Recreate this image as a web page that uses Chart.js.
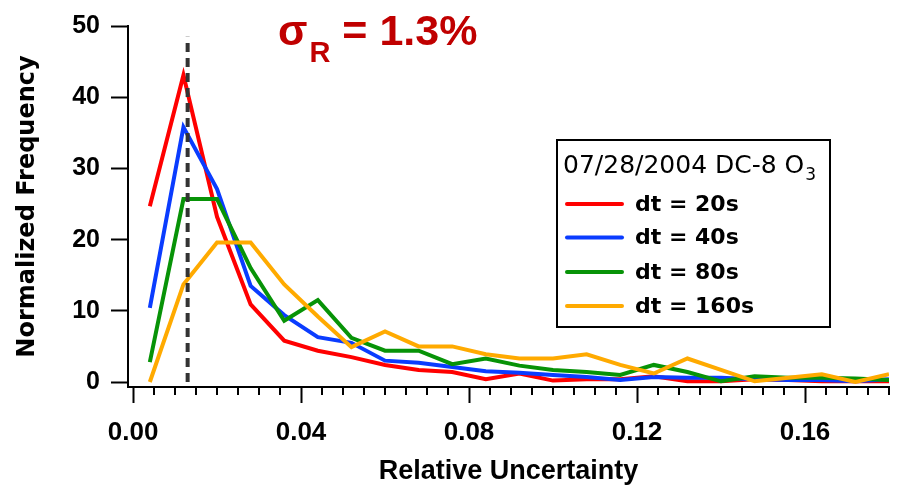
<!DOCTYPE html>
<html>
<head>
<meta charset="utf-8">
<script src="https://cdn.jsdelivr.net/npm/chart.js@4.4.1/dist/chart.umd.min.js"></script>
<style>
  html, body { margin: 0; padding: 0; background: #fff; }
</style>
</head>
<body>
<canvas id="chart" width="899" height="485"></canvas>
<script>
// histogram bin centres (relative uncertainty)
const binCenters = [0.004, 0.012, 0.020, 0.028, 0.036, 0.044, 0.052, 0.060, 0.068, 0.076, 0.084, 0.092,
                    0.100, 0.108, 0.116, 0.124, 0.132, 0.140, 0.148, 0.156, 0.164, 0.172, 0.180];

// normalized frequency for each averaging interval
const dt20  = [24.7, 43.1, 23.2, 10.9, 5.8, 4.4, 3.5, 2.4, 1.7, 1.4, 0.4, 1.2, 0.2, 0.4, 0.4, 0.8, 0.1, 0.1, 0.4, 0.3, 0.1, 0.1, 0.1];
const dt40  = [10.4, 35.8, 27.1, 13.5, 9.4, 6.3, 5.5, 3.0, 2.7, 2.1, 1.5, 1.3, 1.0, 0.7, 0.3, 0.7, 0.6, 0.6, 0.4, 0.3, 0.3, 0.1, 0.4];
const dt80  = [2.8, 25.7, 25.7, 16.0, 8.6, 11.5, 6.2, 4.4, 4.4, 2.5, 3.3, 2.3, 1.7, 1.4, 1.0, 2.4, 1.4, 0.1, 0.8, 0.6, 0.6, 0.5, 0.3];
const dt160 = [0.0, 13.7, 19.6, 19.6, 13.7, 9.2, 4.9, 7.1, 5.0, 5.0, 3.9, 3.3, 3.3, 3.9, 2.4, 1.2, 3.3, 1.7, 0.1, 0.6, 1.1, 0.0, 1.1];

const seriesLabels = ['dt = 20s', 'dt = 40s', 'dt = 80s', 'dt = 160s'];
const seriesColors = ['#ff0000', '#0a3cff', '#079307', '#ffaa00'];

// sigma_R marker
const sigmaR = 0.013;
const sigmaLineY = [0, 48.5];

const xMajorTicks = [0, 0.04, 0.08, 0.12, 0.16];
const xTickLabels = ['0.00', '0.04', '0.08', '0.12', '0.16'];
const xMinorStep = 0.005;
const yTicks = [0, 10, 20, 30, 40, 50];
const yTickLabels = ['0', '10', '20', '30', '40', '50'];

const legendTitle = '07/28/2004 DC-8 O';
const legendTitleSub = '3';

const ARIAL = '"Liberation Sans", Arial, sans-serif';
const DEJAVU = '"DejaVu Sans", Verdana, sans-serif';

const toPoints = ys => ys.map((y, i) => ({ x: binCenters[i], y: y }));

const seriesData = [dt20, dt40, dt80, dt160];
const datasets = seriesData.map((ys, i) => ({
  label: seriesLabels[i],
  data: toPoints(ys),
  borderColor: seriesColors[i],
  borderWidth: 4,
  pointRadius: 0,
  tension: 0,
  order: 4 - i
}));
datasets.push({
  label: 'sigma',
  data: sigmaLineY.map(y => ({ x: sigmaR, y: y })),
  borderColor: '#333333',
  borderWidth: 4,
  borderDash: [9, 6],
  pointRadius: 0,
  order: 0
});

// minor x ticks, sigma annotation and boxed legend
const extras = {
  id: 'extras',
  afterDraw(chart) {
    const ctx = chart.ctx;
    const xs = chart.scales.x;
    const bottom = chart.chartArea.bottom;
    ctx.save();

    ctx.strokeStyle = '#000';
    ctx.lineWidth = 2;
    for (let k = 1; k * xMinorStep <= 0.18 + 1e-9; k++) {
      if (k % 8 === 0) continue;
      const px = Math.round(xs.getPixelForValue(k * xMinorStep));
      ctx.beginPath();
      ctx.moveTo(px, bottom);
      ctx.lineTo(px, bottom + 8);
      ctx.stroke();
    }

    // sigma_R = 1.3%
    ctx.fillStyle = '#c00000';
    ctx.textBaseline = 'alphabetic';
    ctx.font = 'bold 43px ' + ARIAL;
    ctx.fillText('σ', 278, 45);
    let x = 278 + ctx.measureText('σ').width + 2;
    ctx.font = 'bold 29px ' + ARIAL;
    ctx.fillText('R', x, 62);
    x += ctx.measureText('R').width + 12;
    ctx.font = 'bold 43px ' + ARIAL;
    ctx.fillText('= ' + (sigmaR * 100).toFixed(1) + '%', x, 45);

    // legend box
    ctx.lineWidth = 2;
    ctx.strokeStyle = '#000';
    ctx.strokeRect(557, 140, 273, 187);
    ctx.fillStyle = '#000';
    ctx.font = '25px ' + DEJAVU;
    ctx.fillText(legendTitle, 563, 173);
    const tw = ctx.measureText(legendTitle).width;
    ctx.font = '17px ' + DEJAVU;
    ctx.fillText(legendTitleSub, 563 + tw + 1, 180);

    ctx.font = 'bold 22px ' + DEJAVU;
    ctx.textBaseline = 'middle';
    const rows = [204, 237.5, 272, 306];
    chart.data.datasets.forEach((ds, i) => {
      if (i >= seriesLabels.length) return;
      ctx.strokeStyle = ds.borderColor;
      ctx.lineWidth = 4;
      ctx.lineCap = 'round';
      ctx.beginPath();
      ctx.moveTo(567, rows[i]);
      ctx.lineTo(622, rows[i]);
      ctx.stroke();
      ctx.fillStyle = '#000';
      ctx.fillText(ds.label, 635, rows[i] + 1);
    });
    ctx.restore();
  }
};

new Chart(document.getElementById('chart'), {
  type: 'line',
  data: { datasets: datasets },
  options: {
    responsive: false,
    devicePixelRatio: 1,
    animation: false,
    layout: { padding: { top: 22, right: 10, left: 0, bottom: 0 } },
    plugins: {
      legend: { display: false },
      tooltip: { enabled: false }
    },
    scales: {
      x: {
        type: 'linear',
        min: -0.0012,
        max: 0.18,
        afterBuildTicks: s => { s.ticks = xMajorTicks.map(v => ({ value: v })); },
        afterFit: s => { s.height = 98; },
        ticks: {
          autoSkip: false,
          maxRotation: 0,
          padding: 14,
          color: '#000',
          font: { family: ARIAL, size: 26, weight: 'bold' },
          callback: (v, i) => xTickLabels[i]
        },
        grid: { drawOnChartArea: false, tickLength: 16, tickColor: '#000', tickWidth: 2 },
        border: { display: true, color: '#000', width: 2 },
        title: {
          display: true,
          text: 'Relative Uncertainty',
          color: '#000',
          font: { family: ARIAL, size: 27, weight: 'bold', lineHeight: 1 },
          padding: 0
        }
      },
      y: {
        min: -0.7,
        max: 50,
        afterBuildTicks: s => { s.ticks = yTicks.map(v => ({ value: v })); },
        afterFit: s => { s.width = 128; },
        ticks: {
          autoSkip: false,
          padding: 11,
          color: '#000',
          font: { family: ARIAL, size: 25, weight: 'bold' },
          callback: (v, i) => yTickLabels[i]
        },
        grid: { drawOnChartArea: false, tickLength: 17, tickColor: '#000', tickWidth: 2 },
        border: { display: true, color: '#000', width: 2 },
        title: {
          display: true,
          text: 'Normalized Frequency',
          color: '#000',
          font: { family: DEJAVU, size: 24, weight: 'bold', lineHeight: 1 },
          padding: { top: 16, bottom: 0 }
        }
      }
    }
  },
  plugins: [extras]
});
</script>
</body>
</html>
